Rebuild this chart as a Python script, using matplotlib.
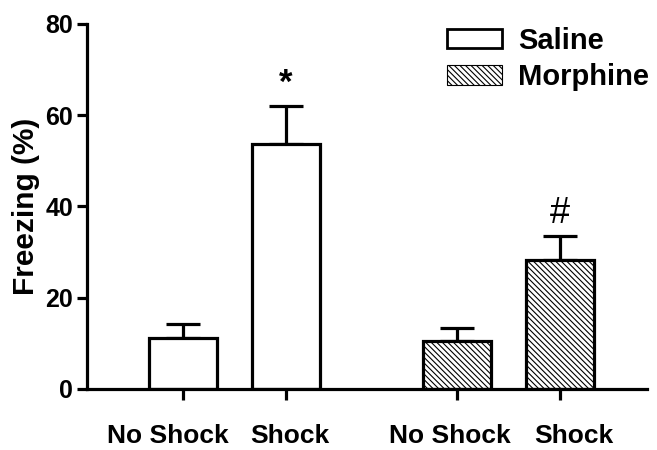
import matplotlib
matplotlib.use("Agg")
import matplotlib.pyplot as plt
from matplotlib.patches import Patch
from matplotlib.transforms import ScaledTranslation

plt.rcParams['font.family'] = ['Liberation Sans', 'DejaVu Sans']
plt.rcParams['font.weight'] = 'bold'
plt.rcParams['hatch.linewidth'] = 0.8

groups = ['Saline', 'Morphine']
tick_labels = ['No Shock', 'Shock', 'No Shock', 'Shock']
means = [11.2, 53.7, 10.5, 28.3]
sems = [3.0, 8.3, 2.9, 5.2]
annotations = ['', '*', '', '#']
positions = [0, 1, 2.66, 3.66]
hatches = ['', '', '\\' * 6, '\\' * 6]

fig = plt.figure(figsize=(6.57, 4.5), dpi=100)
ax = fig.add_axes([0.1324, 0.1356, 0.985 - 0.1324, 0.9467 - 0.1356])

lw = 2.3
for p, m, s, h in zip(positions, means, sems, hatches):
    ax.bar(p, m, width=0.66, facecolor='white', edgecolor='black', linewidth=lw,
           hatch=h, zorder=2)
    ax.errorbar(p, m, yerr=[[0], [s]], color='black', elinewidth=lw, capsize=12,
                capthick=lw, zorder=1, fmt='none')

ann_style = {'*': dict(fontsize=25, fontweight='bold'), '#': dict(fontsize=26, fontweight='normal')}
for p, m, s, a in zip(positions, means, sems, annotations):
    if a:
        ax.text(p, m + s + 2.8, a, ha='center', va='baseline', **ann_style[a])

ax.set_xlim(-0.932, 4.505)
ax.set_ylim(0, 80)
ax.set_yticks([0, 20, 40, 60, 80])
ax.set_xticks(positions)
ax.set_xticklabels(tick_labels, fontsize=19, fontweight='bold')
ax.tick_params(axis='y', labelsize=18, width=lw, length=7, direction='out', pad=3)
ax.tick_params(axis='x', width=lw, length=8, direction='out', pad=17)
for lab in ax.get_yticklabels():
    lab.set_fontweight('bold')
# horizontal nudges of the category labels (pixels)
nudges = [-15, 4, -7, 14]
for lab, dx in zip(ax.get_xticklabels(), nudges):
    lab.set_transform(lab.get_transform() + ScaledTranslation(dx / 100, 0, fig.dpi_scale_trans))
ax.set_ylabel('Freezing (%)', fontsize=21.5, fontweight='bold', labelpad=4)
for sp in ['top', 'right']:
    ax.spines[sp].set_visible(False)
for sp in ['left', 'bottom']:
    ax.spines[sp].set_linewidth(lw)

handles = [Patch(facecolor='white', edgecolor='black', linewidth=2, label=groups[0]),
           Patch(facecolor='white', edgecolor='black', linewidth=0.8, hatch='\\' * 6, label=groups[1])]
leg = ax.legend(handles=handles, loc='upper left', bbox_to_anchor=(0.662, 0.966),
                bbox_transform=fig.transFigure, borderaxespad=0, frameon=False,
                prop={'size': 21, 'weight': 'bold'}, handlelength=1.9, handleheight=0.65,
                labelspacing=0.28, handletextpad=0.55)

fig.savefig('out.png', dpi=100)
